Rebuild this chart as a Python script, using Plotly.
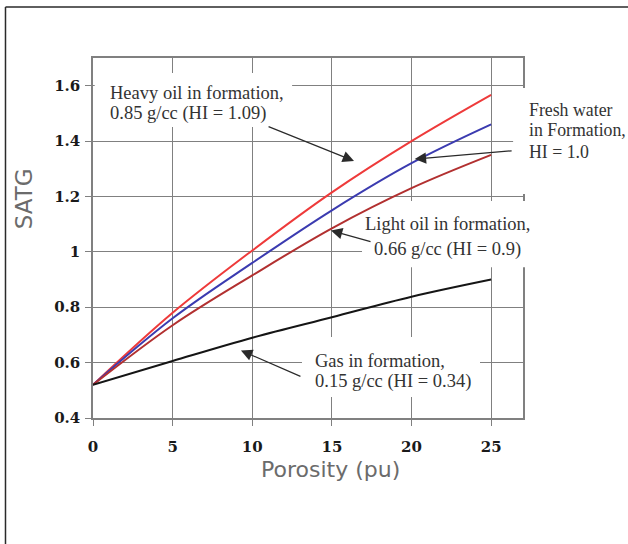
import plotly.graph_objects as go

# ---- data ----
porosity = [0, 5, 10, 15, 20, 25]
heavy_oil = [0.52, 0.78, 1.005, 1.215, 1.40, 1.567]
fresh_water = [0.52, 0.76, 0.96, 1.15, 1.32, 1.46]
light_oil = [0.52, 0.735, 0.915, 1.085, 1.23, 1.35]
gas = [0.52, 0.606, 0.69, 0.764, 0.838, 0.90]

x_ticks = [0, 5, 10, 15, 20, 25]
y_ticks = [0.4, 0.6, 0.8, 1.0, 1.2, 1.4, 1.6]
y_tick_text = ["0.4", "0.6", "0.8", "1", "1.2", "1.4", "1.6"]

series = [
    ("Heavy oil", heavy_oil, "#ee3a3a"),
    ("Fresh water", fresh_water, "#3b3bb0"),
    ("Light oil", light_oil, "#b23030"),
    ("Gas", gas, "#151515"),
]

fig = go.Figure()
for name, vals, col in series:
    fig.add_trace(go.Scatter(x=porosity, y=vals, mode="lines", name=name,
                             line=dict(color=col, width=2, shape="spline"),
                             showlegend=False, hoverinfo="skip"))

grid = "#808080"
tickfont = dict(family="DejaVu Serif", size=15, color="#1a1a1a", weight="bold")

fig.update_layout(
    width=628, height=544, autosize=False,
    margin=dict(l=93, r=105, t=58, b=126),
    paper_bgcolor="white", plot_bgcolor="white",
    xaxis=dict(range=[0, 27], tickvals=x_ticks, showgrid=True, gridcolor=grid,
               gridwidth=1.3, showline=True, mirror=True, linecolor=grid,
               linewidth=1.5, ticks="outside", ticklen=6, tickcolor=grid,
               tickwidth=1.3, zeroline=False, tickfont=tickfont,
               ticklabelstandoff=8),
    yaxis=dict(range=[0.4, 1.7], tickvals=y_ticks, ticktext=y_tick_text,
               showgrid=True, gridcolor=grid, gridwidth=1.3, showline=True,
               mirror=True, linecolor=grid, linewidth=1.5, ticks="outside",
               ticklen=6, tickcolor=grid, tickwidth=1.3, zeroline=False,
               tickfont=tickfont, ticklabelstandoff=2),
)

# white backgrounds behind labels (paper coords of the plot area)
def rect(x0, x1, y0, y1):
    fig.add_shape(type="rect", xref="paper", yref="paper", x0=x0, x1=x1,
                  y0=y0, y1=y1, fillcolor="white", line=dict(width=0),
                  layer="above")

rect(0.004, 0.463, 0.808, 0.958)     # heavy oil
rect(0.977, 1.10, 0.622, 0.917)      # fresh water
rect(0.6256, 0.728, 0.419, 0.564)    # light oil (left part, below curve)
rect(0.728, 1.03, 0.419, 0.603)      # light oil (right part)
rect(0.486, 0.90, 0.058, 0.225)      # gas

# outer frame (left and top)
fig.add_shape(type="line", xref="paper", yref="paper", x0=-0.2035, x1=-0.2035,
              y0=1.1417, y1=-0.36, line=dict(color="#2a2a2a", width=1.5))
fig.add_shape(type="line", xref="paper", yref="paper", x0=-0.2035, x1=1.26,
              y0=1.1417, y1=1.1417, line=dict(color="#2a2a2a", width=1.5))

# label texts
lab_font = dict(family="Liberation Serif", size=18.5, color="#333333")
fresh_font = dict(family="Liberation Serif", size=17.8, color="#333333")
labels = [
    ("Heavy oil in formation,", "x", 0.94, 1.5726, "left", lab_font),
    ("0.85 g/cc (HI = 1.09)", "x", 0.94, 1.4979, "left", lab_font),
    ("Fresh water", "paper", 1.0093, 1.5123, "left", fresh_font),
    ("in Formation,", "paper", 1.0093, 1.4401, "left", fresh_font),
    ("HI = 1.0", "paper", 1.0093, 1.3617, "left", fresh_font),
    ("Light oil in formation,", "x", 22.29, 1.1006, "center", lab_font),
    ("0.66 g/cc (HI = 0.9)", "x", 22.29, 1.0093, "center", lab_font),
    ("Gas in formation,", "x", 13.81, 0.6069, "left", lab_font),
    ("0.15 g/cc (HI = 0.34)", "x", 13.81, 0.5311, "left", lab_font),
]
for txt, xr, x, y, anc, fnt in labels:
    fig.add_annotation(x=x, y=y, xref=xr, yref="y", text=txt, showarrow=False,
                       xanchor=anc, yanchor="middle", font=fnt)

# arrows: (tip x, tip y, tail x, tail y)
arrows = [
    (16.39, 1.328, 10.93, 1.4545),
    (20.2, 1.335, 26.38, 1.3653),
    (14.94, 1.077, 17.52, 1.0356),
    (9.29, 0.6438, 13.12, 0.548),
]
for tx, ty, ax, ay in arrows:
    fig.add_annotation(x=tx, y=ty, ax=ax, ay=ay, xref="x", yref="y",
                       axref="x", ayref="y", text="", showarrow=True,
                       arrowhead=2, arrowsize=1.9, arrowwidth=1.2,
                       arrowcolor="#2a2a2a")

# axis titles
fig.add_annotation(x=-0.16, y=0.608, xref="paper", yref="paper", text="SATG",
                   textangle=-90, showarrow=False, xanchor="center",
                   yanchor="middle",
                   font=dict(family="DejaVu Sans", size=23, color="#6b6b6b"))
fig.add_annotation(x=0.552, y=-0.1028, xref="paper", yref="paper",
                   text="Porosity (pu)", showarrow=False, xanchor="center",
                   yanchor="top",
                   font=dict(family="DejaVu Sans", size=22, color="#6b6b6b"))

fig.write_html("out.html")
